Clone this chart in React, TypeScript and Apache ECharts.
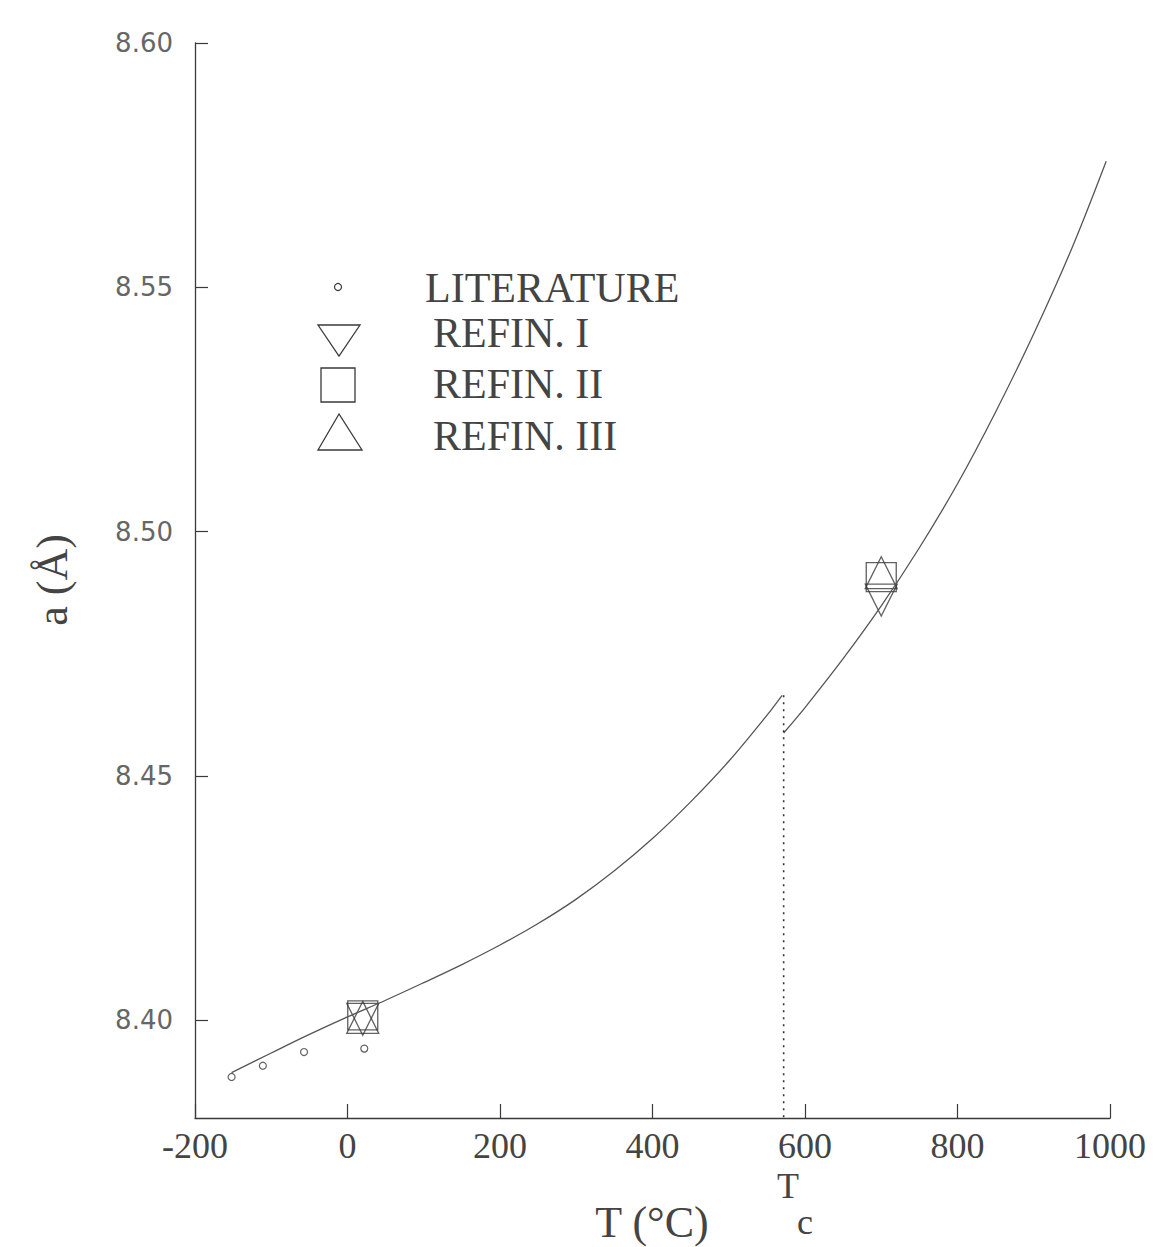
import React, { useEffect, useRef } from "react";
import * as echarts from "echarts";

// Fitted curve, low-temperature branch (T in °C, a in Å)
const lowT = [-152, -100, -50, 0, 50, 100, 150, 200, 250, 300, 350, 400, 450, 500, 550, 570];
const lowA = [8.3893, 8.3933, 8.3971, 8.4007, 8.4041, 8.4077, 8.4114, 8.4154, 8.4198, 8.4248, 8.4306, 8.4372, 8.4447, 8.453, 8.4624, 8.4665];
// Fitted curve, high-temperature branch
const highT = [572, 600, 650, 700, 750, 800, 850, 900, 950, 995];
const highA = [8.4588, 8.464, 8.474, 8.4848, 8.4967, 8.5098, 8.5245, 8.5405, 8.558, 8.5758];
// Literature points
const litT = [-152, -111, -57, 22];
const litA = [8.3884, 8.3907, 8.3935, 8.3942];
// Refinements
const refT = [20, 700];
const refI = [8.4002, 8.486];
const refII = [8.401, 8.4907];
const refIII = [8.4006, 8.4916];
// Transition temperature
const Tc = 572;
const tcTop = 8.4665;

const xTicks = [-200, 0, 200, 400, 600, 800, 1000];
const yTicks = [8.4, 8.45, 8.5, 8.55, 8.6];

const zip = (a: number[], b: number[]) => a.map((v, i) => [v, b[i]]);

export default function App() {
  const ref = useRef<HTMLDivElement>(null);
  useEffect(() => {
    if (!ref.current) return;
    const chart = echarts.init(ref.current, null, { renderer: "svg" });
    const serif = "Liberation Serif";
    const ink = "#3a3a3a";
    const markerStyle = { color: "rgba(0,0,0,0)", borderColor: ink, borderWidth: 1.3 };
    chart.setOption({
      animation: false,
      backgroundColor: "#ffffff",
      grid: { left: 195, right: 55, top: 43, bottom: 129, containLabel: false },
      xAxis: {
        type: "value",
        min: -200,
        max: 1000,
        interval: 200,
        splitLine: { show: false },
        axisLine: { onZero: false, lineStyle: { color: ink, width: 1.3 } },
        axisTick: { inside: true, length: 14, lineStyle: { color: ink, width: 1.2 } },
        axisLabel: {
          margin: 10,
          fontFamily: serif,
          fontSize: 36,
          color: "#444",
          customValues: xTicks,
          formatter: (v: number) => String(v),
        },
      },
      yAxis: {
        type: "value",
        min: 8.38,
        max: 8.6,
        splitLine: { show: false },
        axisLine: { onZero: false, lineStyle: { color: ink, width: 1.3 } },
        axisTick: { inside: true, length: 13, customValues: yTicks, lineStyle: { color: ink, width: 1.2 } },
        axisLabel: {
          margin: 22,
          fontFamily: "DejaVu Sans",
          fontSize: 26,
          color: "#666",
          customValues: yTicks,
          formatter: (v: number) => v.toFixed(2),
        },
      },
      series: [
        {
          name: "fit low",
          type: "line",
          data: zip(lowT, lowA),
          smooth: 0.35,
          showSymbol: false,
          lineStyle: { color: "#555", width: 1.3 },
        },
        {
          name: "fit high",
          type: "line",
          data: zip(highT, highA),
          smooth: 0.35,
          showSymbol: false,
          lineStyle: { color: "#555", width: 1.3 },
        },
        {
          name: "Tc",
          type: "line",
          data: [
            [Tc, tcTop],
            [Tc, 8.38],
          ],
          showSymbol: false,
          lineStyle: { color: "#333", width: 1.6, type: [2, 5] },
        },
        {
          name: "LITERATURE",
          type: "scatter",
          data: zip(litT, litA),
          symbol: "circle",
          symbolSize: 7,
          itemStyle: { color: "#fff", borderColor: ink, borderWidth: 1.2 },
        },
        {
          name: "REFIN. I",
          type: "scatter",
          data: zip(refT, refI),
          symbol: "path://M0,0L2,0L1,2Z",
          symbolSize: [32, 32],
          itemStyle: markerStyle,
        },
        {
          name: "REFIN. II",
          type: "scatter",
          data: zip(refT, refII),
          symbol: "rect",
          symbolSize: [30, 29],
          itemStyle: markerStyle,
        },
        {
          name: "REFIN. III",
          type: "scatter",
          data: zip(refT, refIII),
          symbol: "triangle",
          symbolSize: [32, 32],
          itemStyle: markerStyle,
        },
      ],
      graphic: [
        // legend
        { type: "circle", shape: { cx: 338, cy: 287, r: 3.5 }, style: { fill: "#fff", stroke: ink, lineWidth: 1.2 } },
        { type: "text", x: 425, y: 288, style: { text: "LITERATURE", font: `42px ${serif}`, fill: "#444", verticalAlign: "middle" } },
        { type: "polygon", shape: { points: [[318, 325], [360, 325], [339, 356]] }, style: { fill: "none", stroke: ink, lineWidth: 1.3 } },
        { type: "text", x: 433, y: 333, style: { text: "REFIN. I", font: `42px ${serif}`, fill: "#444", verticalAlign: "middle" } },
        { type: "rect", shape: { x: 321, y: 368, width: 34, height: 34 }, style: { fill: "none", stroke: ink, lineWidth: 1.3 } },
        { type: "text", x: 433, y: 384, style: { text: "REFIN. II", font: `42px ${serif}`, fill: "#444", verticalAlign: "middle" } },
        { type: "polygon", shape: { points: [[339, 414], [318, 450], [362, 450]] }, style: { fill: "none", stroke: ink, lineWidth: 1.3 } },
        { type: "text", x: 433, y: 436, style: { text: "REFIN. III", font: `42px ${serif}`, fill: "#444", verticalAlign: "middle" } },
        // axis titles
        { type: "text", x: 652, y: 1222, style: { text: "T (°C)", font: `44px ${serif}`, fill: "#444", align: "center", verticalAlign: "middle" } },
        { type: "text", x: 788, y: 1186, style: { text: "T", font: `36px ${serif}`, fill: "#444", align: "center", verticalAlign: "middle" } },
        { type: "text", x: 805, y: 1222, style: { text: "c", font: `36px ${serif}`, fill: "#444", align: "center", verticalAlign: "middle" } },
        {
          type: "text",
          x: 52,
          y: 580,
          rotation: Math.PI / 2,
          style: { text: "a (Å)", font: `44px ${serif}`, fill: "#444", align: "center", verticalAlign: "middle" },
        },
      ],
    });
    return () => chart.dispose();
  }, []);
  return <div ref={ref} style={{ position: "fixed", left: 0, top: 0, width: 1165, height: 1247, background: "#fff" }} />;
}
